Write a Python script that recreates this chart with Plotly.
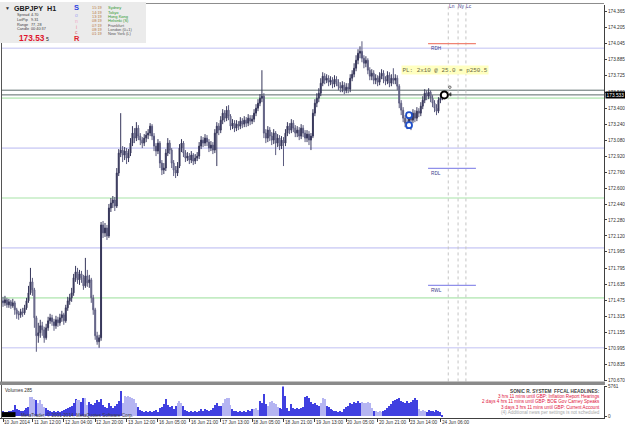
import plotly.graph_objects as go

W, H = 625, 429
FONT = "Liberation Sans"

# ---------------- data ----------------
first_open = 171.47
closes = [
171.45, 171.48, 171.43, 171.46, 171.42, 171.45, 171.38, 171.34, 171.33, 171.36,
171.35, 171.40, 171.47, 171.55, 171.66, 171.58, 171.30, 171.12, 171.15, 171.22,
171.18, 171.10, 171.20, 171.27, 171.30, 171.26, 171.22, 171.28, 171.25, 171.30,
171.33, 171.27, 171.40, 171.47, 171.50, 171.55, 171.70, 171.76, 171.68, 171.74,
171.70, 171.62, 171.72, 171.65, 171.68, 171.50, 171.38, 171.12, 171.06, 171.10,
172.23, 172.15, 172.20, 172.12, 172.40, 172.45, 172.48, 172.42, 172.75, 172.95,
172.98, 172.93, 172.97, 172.90, 172.95, 173.05, 173.15, 173.10, 173.20, 173.12,
173.08, 173.05, 173.10, 173.13, 173.15, 173.22, 173.12, 173.02, 172.97, 173.05,
172.85, 172.78, 172.80, 172.95, 173.05, 172.98, 172.85, 172.78, 172.75, 172.82,
173.00, 173.05, 172.95, 172.90, 172.92, 172.88, 172.93, 172.87, 172.90, 172.92,
173.02, 173.08, 173.05, 173.10, 173.06, 173.00, 173.03, 172.98, 173.15, 173.22,
173.18, 173.28, 173.35, 173.30, 173.38, 173.32, 173.22, 173.25, 173.20, 173.24,
173.22, 173.27, 173.24, 173.28, 173.25, 173.30, 173.27, 173.29, 173.35, 173.40,
173.45, 173.50, 173.52, 173.15, 173.10, 173.18, 173.12, 173.08, 173.15, 173.05,
173.10, 173.02, 173.08, 173.05, 173.15, 173.22, 173.18, 173.25, 173.20, 173.15,
173.18, 173.12, 173.20, 173.15, 173.10, 173.14, 173.08, 173.12, 173.35, 173.45,
173.50, 173.55, 173.65, 173.72, 173.68, 173.70, 173.66, 173.68, 173.64, 173.69,
173.66, 173.62, 173.60, 173.63, 173.58, 173.61, 173.59, 173.70, 173.74, 173.80,
173.88, 173.95, 173.97, 173.90, 173.85, 173.88, 173.78, 173.72, 173.75, 173.68,
173.70, 173.66, 173.72, 173.75, 173.69, 173.67, 173.73, 173.65, 173.70, 173.68,
173.70, 173.62, 173.45, 173.38, 173.30, 173.25, 173.22, 173.32, 173.28, 173.35,
173.30, 173.37, 173.35, 173.42, 173.48, 173.55, 173.52, 173.56, 173.50, 173.45,
173.40, 173.37, 173.48, 173.50, 173.533]
highs = [
171.51, 171.52, 171.50, 171.49, 171.48, 171.49, 171.47, 171.40, 171.37, 171.39,
171.40, 171.43, 171.50, 171.62, 171.80, 171.70, 171.60, 171.32, 171.25, 171.28,
171.26, 171.21, 171.24, 171.31, 171.34, 171.33, 171.29, 171.32, 171.31, 171.34,
171.37, 171.35, 171.43, 171.51, 171.54, 171.60, 171.74, 171.82, 171.80, 171.78,
171.77, 171.73, 171.90, 171.78, 171.73, 171.70, 171.53, 171.40, 171.16, 171.13,
172.26, 172.27, 172.25, 172.23, 172.44, 172.50, 172.52, 172.51, 172.80, 172.99,
173.35, 173.02, 173.01, 173.00, 172.99, 173.10, 173.22, 173.20, 173.26, 173.23,
173.15, 173.11, 173.14, 173.17, 173.19, 173.25, 173.24, 173.15, 173.05, 173.09,
173.07, 172.88, 172.85, 172.99, 173.10, 173.08, 173.00, 172.88, 172.82, 172.86,
173.04, 173.09, 173.07, 172.98, 172.96, 172.95, 172.97, 172.95, 172.94, 172.96,
173.06, 173.12, 173.11, 173.14, 173.13, 173.09, 173.07, 173.06, 173.19, 173.26,
173.25, 173.32, 173.39, 173.38, 173.42, 173.43, 173.34, 173.29, 173.28, 173.28,
173.27, 173.31, 173.30, 173.32, 173.31, 173.34, 173.33, 173.33, 173.39, 173.44,
173.49, 173.54, 173.78, 173.55, 173.19, 173.22, 173.21, 173.16, 173.19, 173.17,
173.14, 173.13, 173.12, 173.11, 173.19, 173.26, 173.25, 173.29, 173.28, 173.23,
173.22, 173.21, 173.24, 173.23, 173.18, 173.18, 173.17, 173.15, 173.39, 173.49,
173.55, 173.60, 173.70, 173.76, 173.75, 173.74, 173.73, 173.72, 173.71, 173.73,
173.72, 173.69, 173.66, 173.67, 173.66, 173.65, 173.65, 173.74, 173.78, 173.85,
173.93, 173.99, 174.02, 174.07, 173.93, 173.92, 173.90, 173.81, 173.79, 173.78,
173.74, 173.73, 173.76, 173.79, 173.78, 173.72, 173.77, 173.76, 173.74, 173.80,
173.74, 173.73, 173.64, 173.48, 173.41, 173.33, 173.29, 173.36, 173.35, 173.39,
173.38, 173.41, 173.40, 173.46, 173.52, 173.59, 173.58, 173.60, 173.58, 173.53,
173.48, 173.44, 173.51, 173.54, 173.56]
lows = [
171.41, 171.42, 171.40, 171.40, 171.39, 171.40, 171.33, 171.29, 171.28, 171.30,
171.31, 171.33, 171.38, 171.45, 171.53, 171.52, 171.20, 170.96, 171.05, 171.10,
171.12, 171.05, 171.08, 171.17, 171.24, 171.22, 171.17, 171.19, 171.21, 171.22,
171.26, 171.23, 171.25, 171.37, 171.43, 171.46, 171.52, 171.66, 171.64, 171.63,
171.65, 171.58, 171.60, 171.61, 171.60, 171.45, 171.33, 171.08, 171.03, 171.00,
171.07, 172.10, 172.11, 172.08, 172.10, 172.36, 172.40, 172.37, 172.40, 172.72,
172.91, 172.86, 172.88, 172.84, 172.86, 172.92, 173.02, 173.05, 173.07, 173.08,
173.03, 173.00, 173.02, 173.06, 173.09, 173.12, 173.08, 172.97, 172.92, 172.94,
172.80, 172.73, 172.74, 172.77, 172.92, 172.94, 172.80, 172.72, 172.70, 172.72,
172.80, 172.96, 172.91, 172.86, 172.87, 172.84, 172.85, 172.83, 172.84, 172.87,
172.89, 172.99, 173.01, 173.02, 173.02, 172.96, 172.97, 172.94, 172.95, 172.82,
173.13, 173.15, 173.24, 173.26, 173.27, 173.28, 173.18, 173.19, 173.16, 173.17,
173.18, 173.19, 173.20, 173.21, 173.21, 173.22, 173.23, 173.24, 173.26, 173.32,
173.37, 173.42, 173.46, 173.10, 173.05, 173.06, 173.07, 173.03, 173.04, 172.93,
173.01, 172.98, 172.99, 172.82, 173.02, 173.12, 173.14, 173.15, 173.16, 173.11,
173.11, 173.08, 173.09, 173.11, 173.06, 173.06, 173.03, 172.98, 173.10, 173.32,
173.41, 173.46, 173.52, 173.62, 173.64, 173.65, 173.62, 173.63, 173.60, 173.61,
173.62, 173.58, 173.56, 173.56, 173.54, 173.55, 173.55, 173.56, 173.67, 173.71,
173.77, 173.84, 173.90, 173.86, 173.80, 173.81, 173.74, 173.68, 173.68, 173.64,
173.64, 173.62, 173.63, 173.69, 173.65, 173.63, 173.64, 173.61, 173.62, 173.64,
173.64, 173.58, 173.40, 173.33, 173.26, 173.21, 173.19, 173.20, 173.18, 173.25,
173.26, 173.27, 173.31, 173.32, 173.39, 173.45, 173.48, 173.49, 173.46, 173.41,
173.36, 173.33, 173.35, 173.45, 173.48]
volumes = [
900, 700, 800, 1000, 900, 1200, 2200, 1300, 1100, 1000,
900, 1200, 1500, 1800, 3700, 3600, 3300, 3100, 2600, 3000,
2400, 1800, 1500, 1100, 1000, 800, 900, 700, 1000, 800,
900, 1100, 1300, 1500, 1800, 2000, 2500, 3300, 3000, 3100,
2700, 3400, 3500, 2200, 2700, 2400, 2100, 2500, 3000, 2700,
3300, 2200, 1800, 1500, 2500, 1900, 1600, 2000, 2400, 2800,
4800, 2600, 3800, 3600, 3900, 3700, 3500, 3200, 2600, 1800,
1200, 1000, 800, 900, 700, 1000, 800, 900, 1100, 700,
1500, 1800, 2300, 3200, 2200, 1700, 2000, 1400, 1900, 2500,
2800, 2500, 2000, 1200, 900, 800, 1000, 700, 900, 800,
1000, 1300, 1000, 1400, 1100, 900, 1200, 1600, 2200, 2600,
2000, 1900, 2500, 3300, 3500, 3400, 2100, 1300, 900, 1000,
800, 900, 700, 1000, 800, 1200, 1000, 1400, 1300, 1500,
1200, 2800, 2600, 4300, 2300, 2000, 2700, 2900, 2500, 2300,
1800, 1600, 1400, 5761, 3800, 1500, 1000, 2400, 1500, 1400,
1500, 1400, 1500, 1800, 3700, 3900, 3500, 2700, 2400, 2600,
2200, 2000, 2600, 3500, 3300, 2000, 1700, 1400, 1100, 900,
900, 700, 1000, 800, 1300, 1700, 2000, 2600, 2300, 2700,
2600, 2800, 2500, 2700, 2600, 2500, 2700, 2600, 1500, 900,
1000, 800, 900, 700, 1000, 1200, 1600, 2000, 2400, 2800,
3000, 3300, 3400, 2900, 2700, 2600, 2800, 2500, 2700, 3100,
3400, 3000, 1300, 1000, 1100, 900, 800, 1200, 900, 1000,
800, 1100, 1000, 700, 285]
light_volume_bars = [14, 15, 16, 18, 19, 20, 21, 38, 39, 42, 43, 61, 62, 63, 64, 65, 66, 67, 68,
                     89, 90, 91, 112, 113, 114, 115, 116, 128, 129, 130, 135, 136, 137, 138, 139, 140,
                     162, 163, 164, 183, 184, 185, 186, 187, 188, 190, 191, 192, 193, 212, 213, 214, 215]
volume_max = 5761
volume_last = 285

xtick_bars = [0, 15, 31, 47, 63, 79, 95, 111, 127, 143, 159, 175, 191, 207, 223]
xtick_labels = ["10 Jun 2014", "11 Jun 12:00", "12 Jun 04:00", "12 Jun 20:00", "13 Jun 12:00",
                "16 Jun 05:00", "16 Jun 21:00", "17 Jun 13:00", "18 Jun 05:00", "18 Jun 21:00",
                "19 Jun 13:00", "20 Jun 05:00", "20 Jun 21:00", "23 Jun 14:00", "24 Jun 06:00"]
ytick_labels = ["174.365", "174.205", "174.045", "173.885", "173.725", "173.560", "173.400",
                "173.240", "173.080", "172.920", "172.760", "172.600", "172.440", "172.280",
                "172.120", "171.965", "171.795", "171.635", "171.475", "171.315", "171.155",
                "170.995", "170.835", "170.670"]

round_levels = [174.0, 173.0, 172.0, 171.0]
half_levels = [173.5, 172.5, 171.5]
bid, ask = 173.533, 173.580
range_levels = [("RDH", 174.047), ("RDL", 172.796), ("RWL", 171.625)]
range_level_bars = (216.7, 241.1)
session_bars = [227, 232, 236]
session_labels = ["Ln", "Ny", "Lc"]
entry_bars = [207, 207]
entry_prices = [173.33, 173.23]
now_bar, now_price = 225, 173.533

headline_title = "SONIC R. SYSTEM  FFCAL HEADLINES:"
headlines = ["3 hrs 11 mins until GBP: Inflation Report Hearings",
             "2 days 4 hrs 11 mins until GBP: BOE Gov Carney Speaks",
             "3 days 3 hrs 11 mins until GBP: Current Account"]
headline_note = "(4) Additional news per settings is not scheduled"

info_rows = [("Spread", "4.70"), ("LotPip", "9.31"), ("Range", "77, 28"), ("Candle", "00:40:37")]
sessions = [("15:19", "Sydney", True), ("14:19", "Tokyo", True), ("13:19", "Hong Kong", True),
            ("08:19", "Helsinki (S)", True), ("07:19", "Frankfurt", False),
            ("08:19", "London (0+1)", False), ("01:19", "New York (L)", False)]
sonic_letters = [("S", "#2a3fe0", True, 7.5), ("o", "#a8a8f0", False, 5), ("n", "#f0a8c8", False, 5),
                 ("i", "#f08a9a", False, 5), ("c", "#e06a78", False, 5), ("R", "#e0202a", True, 7.5)]

# ---------------- geometry helpers ----------------
n = min(len(closes), len(highs), len(lows), len(volumes))
closes, highs, lows, volumes = closes[:n], highs[:n], lows[:n], volumes[:n]
opens = [first_open] + closes[:-1]
bars = list(range(n))

def bar_at(px):           # pixel column -> bar index
    return (px - 3.0) / 1.9615

def price_at(py):          # pixel row -> price
    return 174.0 - (py - 46.7) / 100.77

def PX(px):
    return px / W

def PY(py):
    return 1 - py / H

main_dom = [PY(383), PY(3)]
vol_dom = [PY(420), PY(388)]
x_dom_right = PX(604)

fig = go.Figure()

fig.add_trace(go.Candlestick(
    x=bars, open=opens, high=highs, low=lows, close=closes,
    increasing=dict(line=dict(color="#36365a", width=1), fillcolor="#36365a"),
    decreasing=dict(line=dict(color="#5a5a7e", width=1), fillcolor="#a6a6c0"),
    whiskerwidth=0, xaxis="x", yaxis="y", hoverinfo="skip", showlegend=False))

vol_colors = ["#b4b4f2" if i in light_volume_bars else "#3e3ee0" for i in bars]
fig.add_trace(go.Bar(x=bars, y=volumes,
                     marker=dict(color=vol_colors, line=dict(width=0), opacity=0.99),
                     width=0.56, xaxis="x", yaxis="y2", hoverinfo="skip", showlegend=False))

fig.add_trace(go.Scatter(x=entry_bars, y=entry_prices, mode="markers",
                         marker=dict(symbol="circle", size=6, color="white",
                                     line=dict(color="#1f4fc8", width=1.8)),
                         xaxis="x", yaxis="y", hoverinfo="skip", showlegend=False))
fig.add_trace(go.Scatter(x=[now_bar], y=[now_price], mode="markers",
                         marker=dict(symbol="circle", size=7, color="white",
                                     line=dict(color="black", width=2)),
                         xaxis="x", yaxis="y", hoverinfo="skip", showlegend=False))
fig.add_trace(go.Scatter(x=[now_bar + 2.8, now_bar + 3.0], y=[ask + 0.03, bid + 0.005], mode="markers",
                         marker=dict(symbol=["circle-open", "triangle-left"], size=[2.5, 3],
                                     color="black", line=dict(color="black", width=0.8)),
                         xaxis="x", yaxis="y", hoverinfo="skip", showlegend=False))

shapes = []
for p in round_levels:
    shapes.append(dict(type="line", xref="paper", x0=PX(1), x1=x_dom_right, yref="y", y0=p, y1=p,
                       line=dict(color="#d6d6f7", width=1.7), layer="below"))
for p in half_levels:
    shapes.append(dict(type="line", xref="paper", x0=PX(1), x1=x_dom_right, yref="y", y0=p, y1=p,
                       line=dict(color="#c4ecc4", width=1.7), layer="below"))
for p in (bid, ask):
    shapes.append(dict(type="line", xref="paper", x0=PX(1), x1=x_dom_right, yref="y", y0=p, y1=p,
                       line=dict(color="#5c6c6a", width=1), layer="below"))
for name, p in range_levels:
    shapes.append(dict(type="line", xref="x", x0=range_level_bars[0], x1=range_level_bars[1],
                       yref="y", y0=p, y1=p,
                       line=dict(color="#f08474" if name == "RDH" else "#9090ea", width=1.3)))
for b in session_bars:
    shapes.append(dict(type="line", xref="x", x0=b, x1=b, yref="paper", y0=PY(383), y1=PY(2),
                       line=dict(color="#c4c4c4", width=1, dash="dot"), layer="below"))
# frames
shapes.append(dict(type="line", xref="paper", yref="paper", x0=0, x1=x_dom_right, y0=PY(1.5), y1=PY(1.5),
                   line=dict(color="#8c8c8c", width=1)))
shapes.append(dict(type="line", xref="paper", yref="paper", x0=PX(1.5), x1=PX(1.5), y0=PY(420), y1=PY(0),
                   line=dict(color="#555555", width=1)))
shapes.append(dict(type="rect", xref="paper", yref="paper", x0=0, x1=PX(605), y0=PY(386.5), y1=PY(383),
                   fillcolor="#8a8a8a", line=dict(width=0)))
# info panel
shapes.append(dict(type="rect", xref="paper", yref="paper", x0=0, x1=PX(146), y0=PY(41.5), y1=PY(0),
                   fillcolor="#ebebeb", line=dict(width=0)))
# metatrader black box
shapes.append(dict(type="rect", xref="paper", yref="paper", x0=PX(2), x1=PX(15.5), y0=PY(419), y1=PY(414),
                   fillcolor="black", line=dict(width=0)))

anns = []

def txt(text, px, py, size=4.7, color="#303030", xanchor="left", bold=False, family=FONT, **kw):
    t = f"<b>{text}</b>" if bold else text
    d = dict(text=t, x=PX(px), y=PY(py), xref="paper", yref="paper", xanchor=xanchor,
             yanchor="middle", showarrow=False, font=dict(size=size, color=color, family=family))
    d.update(kw)
    anns.append(d)

# x labels
for b, lab in zip(xtick_bars, xtick_labels):
    anns.append(dict(text=lab, x=b - 0.4, y=PY(424.5), xref="x", yref="paper", xanchor="left",
                     yanchor="middle", showarrow=False, font=dict(size=4.7, color="#303030", family=FONT)))

# current price tag
anns.append(dict(text=f"{bid:.3f}", x=x_dom_right + PX(0.5), y=bid, xref="paper", yref="y",
                 xanchor="left", yanchor="middle", showarrow=False, bgcolor="black", borderpad=0.6,
                 font=dict(size=4.8, color="white", family=FONT)))

# range level labels
for name, p in range_levels:
    anns.append(dict(text=name, x=range_level_bars[0] + 0.6, y=p, xref="x", yref="y", xanchor="left",
                     yanchor="top", yshift=-0.5, showarrow=False,
                     font=dict(size=4.7, color="#3c3c8c", family=FONT)))
# session labels
for b, lab in zip(session_bars, session_labels):
    anns.append(dict(text=lab, x=b + 1.7, y=PY(5), xref="x", yref="paper", xanchor="center",
                     yanchor="middle", showarrow=False, font=dict(size=4.8, color="#3c3c8c", family=FONT)))

# PL box
anns.append(dict(text="PL: 2x10 @ 25.0 = p250.5", x=bar_at(400.5), y=PY(68.8), xref="x", yref="paper",
                 xanchor="left", yanchor="middle", showarrow=False, bgcolor="#ffffc0", borderpad=0.5,
                 font=dict(size=5.9, color="#6a6a40", family="Liberation Mono")))

# volume window texts
txt(f"Volumes {volume_last}", 3, 392, size=4.7)
txt("MetaTrader, © 2001-2014, MetaQuotes Software Corp.", 19, 416.6, size=4.6, color="#3a3a3a")
txt(headline_title, 602, 392.7, size=4.7, color="#404040", xanchor="right", bold=True)
for k, h in enumerate(headlines):
    txt(h, 602, 398.3 + 5.4 * k, size=4.6, color="#e0143c", xanchor="right")
txt(headline_note, 602, 414.4, size=4.6, color="#a8a8a8", xanchor="right")

# info panel texts
txt("▼", 2.5, 6, size=5, color="#303030")
txt("GBPJPY  H1", 11.5, 6.2, size=7.2, color="#1a1a1a", bold=True)
for k, (lab, val) in enumerate(info_rows):
    txt(lab, 14.5, 13.5 + 4.7 * k, size=3.8, color="#404040")
    txt(val, 28.5, 13.5 + 4.7 * k, size=3.8, color="#404040")
txt("173.53", 16.5, 36.5, size=8.3, color="#e0142c", bold=True)
txt("5", 43.5, 37.2, size=5.2, color="#222222")
ys = [5.8, 13.5, 19.5, 25.0, 30.5, 37.0]
for (ch, col, b, sz), yy in zip(sonic_letters, ys):
    txt(ch, 76.5, yy, size=sz, color=col, xanchor="center", bold=b)
for k, (tm, city, green) in enumerate(sessions):
    yy = 5.7 + 4.43 * k
    txt(tm, 90, yy, size=3.9, color="#b8783a")
    txt(city, 106, yy, size=4.0, color="#2e9a2e" if green else "#555555")

fig.update_layout(
    width=W, height=H, margin=dict(l=0, r=0, t=0, b=0),
    paper_bgcolor="white", plot_bgcolor="white", showlegend=False,
    xaxis=dict(domain=[0, x_dom_right], range=[bar_at(0), bar_at(604)], anchor="y2",
               showgrid=False, zeroline=False, showline=True, linecolor="#404040", linewidth=1,
               ticks="outside", ticklen=3, tickcolor="#404040", tickvals=xtick_bars,
               showticklabels=False, rangeslider=dict(visible=False), fixedrange=True),
    yaxis=dict(domain=main_dom, range=[price_at(383), price_at(3)], side="right", anchor="x",
               showgrid=False, zeroline=False, showline=True, linecolor="#404040", linewidth=1,
               ticks="outside", ticklen=2, tickcolor="#404040",
               tickvals=[float(t) for t in ytick_labels], ticktext=ytick_labels,
               tickfont=dict(size=4.7, color="#303030", family=FONT), fixedrange=True),
    yaxis2=dict(domain=vol_dom, range=[-300, volume_max], side="right", anchor="x",
                showgrid=False, zeroline=False, showline=True, linecolor="#404040", linewidth=1,
                ticks="outside", ticklen=2, tickcolor="#404040",
                tickvals=[0, volume_max], ticktext=["0", str(volume_max)],
                tickfont=dict(size=4.7, color="#303030", family=FONT), fixedrange=True),
    shapes=shapes, annotations=anns, bargap=0,
)

fig.write_html("out.html", config=dict(displayModeBar=False))
